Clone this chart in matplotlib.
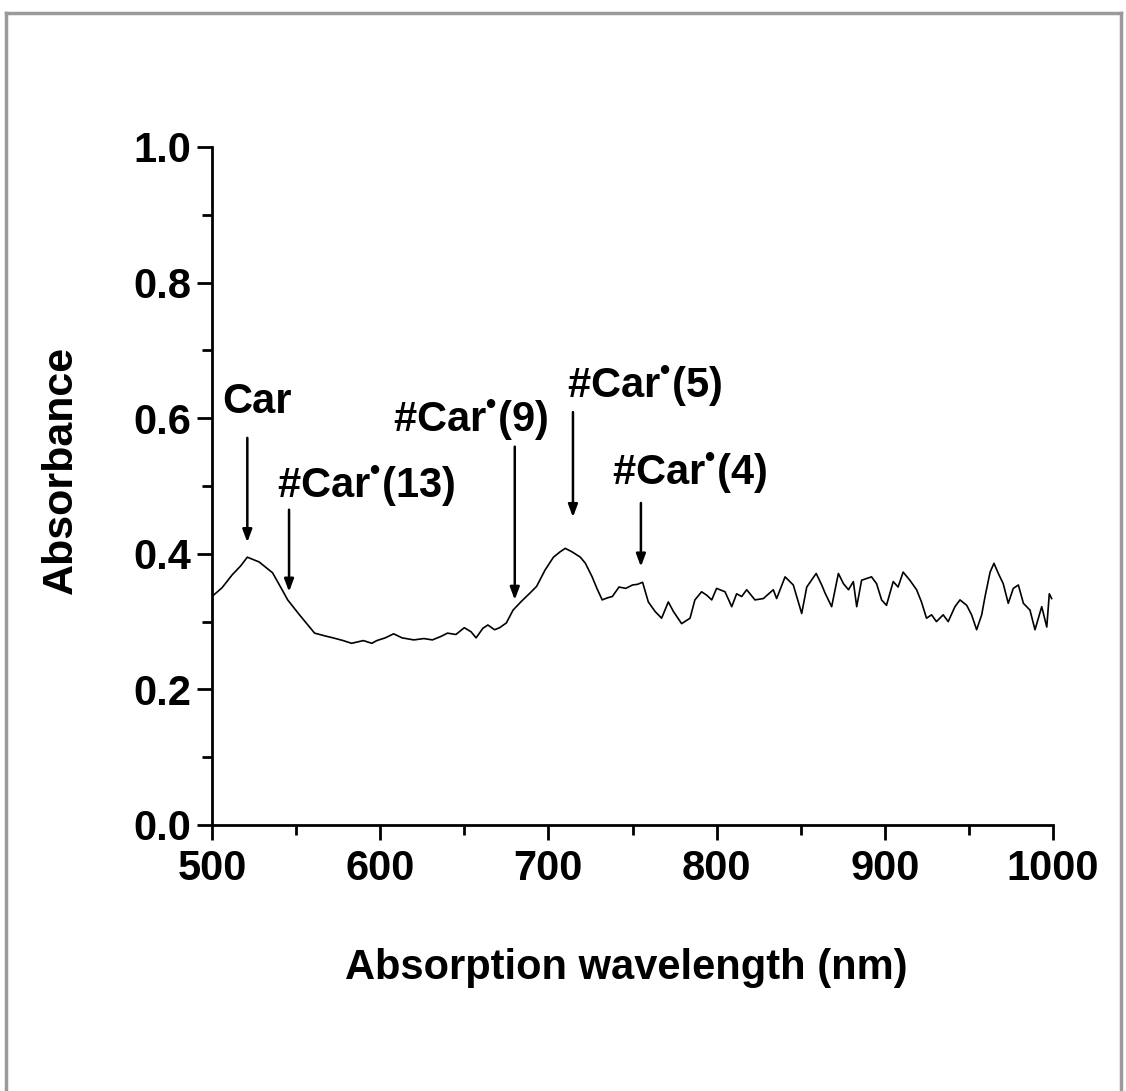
import matplotlib
matplotlib.use("Agg")
import matplotlib.pyplot as plt
from matplotlib.lines import Line2D
from matplotlib.ticker import MultipleLocator

plt.rcParams['font.family'] = ['Liberation Sans', 'DejaVu Sans']
plt.rcParams['font.weight'] = 'bold'
plt.rcParams['mathtext.fontset'] = 'custom'
plt.rcParams['mathtext.rm'] = 'Liberation Sans:bold'
plt.rcParams['mathtext.it'] = 'Liberation Sans:bold'
plt.rcParams['mathtext.bf'] = 'Liberation Sans:bold'
plt.rcParams['mathtext.default'] = 'rm'

# ---- data ----
wavelength = [500, 506, 512, 517, 521, 528, 533, 536, 541, 545, 552, 557, 561, 567, 572,
              578, 583, 590, 595, 598, 603, 608, 613, 620, 626, 631, 636, 640, 645, 650,
              654, 657, 661, 664, 668, 671, 675, 679, 684, 689, 693, 698, 703, 707, 710,
              714, 719, 722, 726, 729, 732, 735, 738, 742, 746, 750, 753, 756, 759.4,
              763.4, 767.3, 771.3, 774.3, 779.2, 784.2, 787.1, 791.1, 794.1, 797.1, 800.0,
              805.0, 809.0, 811.9, 814.9, 817.9, 822.8, 827.8, 833.7, 835.7, 840.7, 845.6,
              850.6, 853.6, 859.2, 862.5, 864.5, 868.4, 872.4, 875.4, 878.4, 881.3, 883.3,
              886.2, 892.1, 895.1, 898.1, 901.0, 905.0, 907.9, 910.9, 914.9, 918.9, 921.8,
              924.8, 927.8, 930.7, 934.7, 937.7, 941.7, 944.7, 948.7, 951.6, 954.6, 957.6,
              959.6, 962.6, 964.9, 967.5, 970.4, 973.4, 976.4, 979.4, 982.4, 986.3, 989.3,
              993.3, 996.3, 997.8, 999.2]
absorbance = [0.337, 0.350, 0.369, 0.382, 0.395, 0.388, 0.378, 0.372, 0.350, 0.332, 0.310,
              0.295, 0.283, 0.279, 0.276, 0.272, 0.268, 0.272, 0.268, 0.272, 0.276, 0.282,
              0.276, 0.273, 0.275, 0.273, 0.278, 0.283, 0.281, 0.291, 0.285, 0.276, 0.290,
              0.295, 0.288, 0.291, 0.298, 0.317, 0.330, 0.342, 0.352, 0.376, 0.395, 0.403,
              0.408, 0.403, 0.395, 0.386, 0.366, 0.348, 0.332, 0.335, 0.337, 0.351, 0.349,
              0.354, 0.355, 0.358, 0.329,
              0.315, 0.305, 0.329, 0.315, 0.297, 0.305, 0.332, 0.344, 0.339, 0.332, 0.349,
              0.344, 0.322, 0.341, 0.337, 0.347, 0.332, 0.334, 0.347, 0.334, 0.366, 0.354,
              0.312, 0.351, 0.371, 0.354, 0.342, 0.322, 0.371, 0.356, 0.347, 0.359, 0.322,
              0.361, 0.366, 0.356, 0.332, 0.324, 0.359, 0.351, 0.373, 0.361, 0.347, 0.329,
              0.305, 0.310, 0.300, 0.310, 0.300, 0.322, 0.332, 0.324, 0.310, 0.288, 0.310,
              0.337, 0.373, 0.386, 0.371, 0.356, 0.327, 0.349, 0.354, 0.327, 0.317, 0.288,
              0.322, 0.292, 0.341, 0.334]

# annotations: label, label position (left x, baseline y), arrow x, arrow tail y, arrow tip y
ann_labels = ['Car', '#Car$^{\u2022}$(13)', '#Car$^{\u2022}$(9)',
              '#Car$^{\u2022}$(5)', '#Car$^{\u2022}$(4)']
ann_text_x = [506, 538.6, 607.6, 711, 737.8]
ann_text_y = [0.608, 0.482, 0.580, 0.630, 0.501]
ann_arrow_x = [521, 545.8, 680, 714.6, 755]
ann_arrow_tail = [0.571, 0.465, 0.558, 0.609, 0.475]
ann_arrow_tip = [0.417, 0.344, 0.332, 0.454, 0.381]

xticks = [500, 600, 700, 800, 900, 1000]
yticks = [0.0, 0.2, 0.4, 0.6, 0.8, 1.0]

fig = plt.figure(figsize=(11.26, 10.91), dpi=100)
ax = fig.add_axes([212 / 1126, 1 - 825 / 1091, (1053 - 212) / 1126, (825 - 147) / 1091])

ax.plot(wavelength, absorbance, color='black', lw=1.2)

for lab, tx, ty, axx, tail, tip in zip(ann_labels, ann_text_x, ann_text_y,
                                        ann_arrow_x, ann_arrow_tail, ann_arrow_tip):
    ax.text(tx, ty, lab, fontsize=30, fontweight='bold', ha='left', va='baseline',
            color='black')
    ax.annotate('', xy=(axx, tip), xytext=(axx, tail),
                arrowprops=dict(arrowstyle='-|>,head_length=0.75,head_width=0.28',
                                color='black', lw=1.8, shrinkA=0, shrinkB=0))

ax.set_xlim(500, 1000)
ax.set_ylim(0, 1.0)
ax.set_xticks(xticks)
ax.set_yticks(yticks)
ax.set_xticklabels([str(v) for v in xticks], fontweight='bold')
ax.set_yticklabels([f'{v:.1f}' for v in yticks], fontweight='bold')
ax.xaxis.set_minor_locator(MultipleLocator(50))
ax.yaxis.set_minor_locator(MultipleLocator(0.1))

for s in ['top', 'right']:
    ax.spines[s].set_visible(False)
for s in ['left', 'bottom']:
    ax.spines[s].set_linewidth(2)
ax.tick_params(which='major', direction='out', length=11, width=2, labelsize=30)
ax.tick_params(axis='x', which='major', pad=6)
ax.tick_params(axis='y', which='major', pad=4)
ax.tick_params(which='minor', direction='out', length=7, width=2)

ax.set_ylabel('Absorbance', fontsize=31, fontweight='bold')
ax.yaxis.set_label_coords(-0.180, 0.524)
ax.yaxis.label.set_va('center')
ax.set_xlabel('Absorption wavelength (nm)', fontsize=30, fontweight='bold')
ax.xaxis.set_label_coords(0.493, -0.211)
ax.xaxis.label.set_va('center')

# grey frame (top, left, right)
W, H = 1126, 1091
frame_col = '#9a9a9a'
fig.add_artist(Line2D([6 / W, 1121 / W], [1 - 13 / H, 1 - 13 / H], color=frame_col, lw=2.5,
                      transform=fig.transFigure))
fig.add_artist(Line2D([6 / W, 6 / W], [0, 1 - 13 / H], color=frame_col, lw=2.5,
                      transform=fig.transFigure))
fig.add_artist(Line2D([1121 / W, 1121 / W], [0, 1 - 13 / H], color=frame_col, lw=2.5,
                      transform=fig.transFigure))

fig.savefig('out.png', dpi=100)
